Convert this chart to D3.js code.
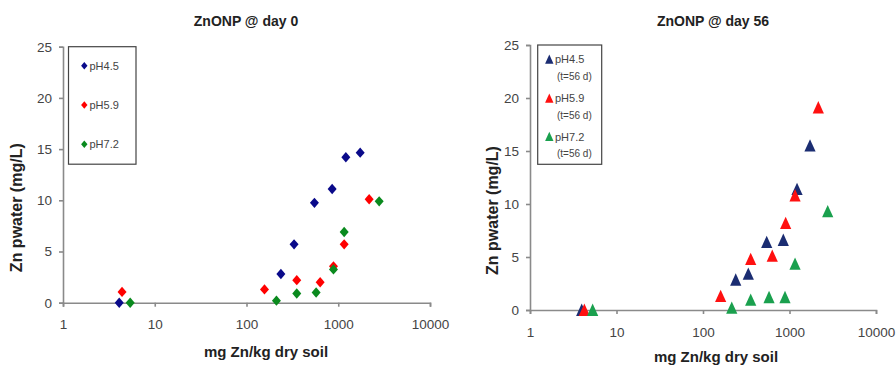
<!DOCTYPE html>
<html>
<head>
<meta charset="utf-8">
<script src="https://cdn.jsdelivr.net/npm/d3@7"></script>
<style>
  body { margin: 0; background: #fff; }
  #chart { width: 896px; height: 367px; }
  text { font-family: "Liberation Sans Narrow", "Arial Narrow", "Liberation Sans", Arial, sans-serif; }
  .axis path, .axis line { stroke: #8a8a8a; stroke-width: 1.6; }
  .axis text { fill: #444; font-size: 13.5px; }
  .title, .axisLabel { font-weight: bold; fill: #222; }
</style>
</head>
<body>
<div id="chart"></div>
<script>
// tick values
const xTicks = [1, 10, 100, 1000, 10000];
const yTicks = [0, 5, 10, 15, 20, 25];

// day 0 : [mg Zn/kg, Zn pwater]
const day0_ph45 = [[4.1, 0], [237, 2.8], [330, 5.7], [550, 9.75], [858, 11.1], [1210, 14.2], [1734, 14.65]];
const day0_ph59 = [[4.4, 1.05], [157, 1.3], [353, 2.2], [635, 2.0], [887, 3.55], [1160, 5.7], [2172, 10.1]];
const day0_ph72 = [[5.4, 0], [212, 0.2], [353, 0.9], [574, 1.0], [887, 3.25], [1160, 6.9], [2793, 9.9]];

// day 56
const day56_ph45 = [[3.96, 0], [239, 2.85], [334, 3.4], [545, 6.4], [848, 6.6], [1222, 11.4], [1726, 15.5]];
const day56_ph59 = [[4.25, 0], [160, 1.3], [356, 4.8], [632, 5.1], [903, 8.2], [1159, 10.8], [2153, 19.1]];
const day56_ph72 = [[5.3, 0], [215, 0.2], [356, 0.95], [580, 1.2], [887, 1.2], [1159, 4.35], [2765, 9.3]];

const labels = ["pH4.5", "pH5.9", "pH7.2"];
const subLabel = "(t=56 d)";

document.addEventListener("DOMContentLoaded", () => {
  const svg = d3.select("#chart").append("svg")
    .attr("width", 896)
    .attr("height", 367);

  // custom marker shapes (size = half width)
  const diamond = {
    draw(ctx, s) {
      ctx.moveTo(0, -s * 1.15); ctx.lineTo(s, 0); ctx.lineTo(0, s * 1.15); ctx.lineTo(-s, 0); ctx.closePath();
    }
  };
  const triangle = {
    draw(ctx, s) {
      ctx.moveTo(0, -s * 1.15); ctx.lineTo(s, s * 1.05); ctx.lineTo(-s, s * 1.05); ctx.closePath();
    }
  };

  const panels = [
    {
      title: "ZnONP @ day 0", series: [day0_ph45, day0_ph59, day0_ph72],
      colors: ["#0a0a8a", "#ff0000", "#0a8a1e"], shape: diamond, ms: 4.5,
      x: [63, 430], y: [302.7, 46.7], titleX: 246, yLabX: 16, xLabX: 266, xLabY: 357,
      legend: { x: 68.5, y: 46.7, w: 67.5, h: 117.5, mx: 84.3, tx: 89.5, rows: [65.7, 105, 144.3], sub: false }
    },
    {
      title: "ZnONP @ day 56", series: [day56_ph45, day56_ph59, day56_ph72],
      colors: ["#1b2d72", "#ff1010", "#1aa04e"], shape: triangle, ms: 5.6,
      x: [530, 876], y: [310, 45], titleX: 713, yLabX: 492, xLabX: 716, xLabY: 362,
      legend: { x: 537.7, y: 45, w: 64, h: 119.3, mx: 549.3, tx: 555, rows: [59.3, 98.3, 136.7], sub: true }
    }
  ];

  panels.forEach(p => {
    const xScale = d3.scaleLog().domain([1, 10000]).range(p.x);
    const yScale = d3.scaleLinear().domain([0, 25]).range(p.y);
    const g = svg.append("g");

    g.append("g")
      .attr("class", "axis")
      .attr("transform", `translate(0,${p.y[0]})`)
      .call(d3.axisBottom(xScale).tickValues(xTicks).tickFormat(d3.format("d")).tickSizeOuter(0).tickSize(4).tickPadding(13));

    g.append("g")
      .attr("class", "axis")
      .attr("transform", `translate(${p.x[0]},0)`)
      .call(d3.axisLeft(yScale).tickValues(yTicks).tickSizeOuter(0).tickSize(4).tickPadding(7));

    g.append("text")
      .attr("class", "title")
      .attr("x", p.titleX)
      .attr("y", 26)
      .attr("text-anchor", "middle")
      .style("font-size", "14px")
      .text(p.title);

    g.append("text")
      .attr("class", "axisLabel")
      .attr("x", p.xLabX)
      .attr("y", p.xLabY)
      .attr("text-anchor", "middle")
      .style("font-size", "15px")
      .text("mg Zn/kg dry soil");

    g.append("text")
      .attr("class", "axisLabel")
      .attr("transform", `translate(${p.yLabX},${(p.y[0] + p.y[1]) / 2 + 33}) rotate(-90)`)
      .attr("dy", "0.35em")
      .attr("text-anchor", "middle")
      .style("font-size", "16px")
      .text("Zn pwater (mg/L)");

    const sym = d3.symbol().type(p.shape).size(p.ms);

    p.series.forEach((data, i) => {
      g.selectAll(null)
        .data(data)
        .enter()
        .append("path")
        .attr("d", sym)
        .attr("transform", d => `translate(${xScale(d[0])},${yScale(d[1])})`)
        .attr("fill", p.colors[i]);
    });

    // legend
    const L = p.legend;
    g.append("rect")
      .attr("x", L.x).attr("y", L.y)
      .attr("width", L.w).attr("height", L.h)
      .attr("fill", "#fff")
      .attr("stroke", "#444")
      .attr("stroke-width", 1.2);

    const lsym = d3.symbol().type(p.shape).size(L.sub ? 4.2 : 3.2);
    labels.forEach((lab, i) => {
      g.append("path")
        .attr("d", lsym)
        .attr("transform", `translate(${L.mx},${L.rows[i]})`)
        .attr("fill", p.colors[i]);
      g.append("text")
        .attr("x", L.tx)
        .attr("y", L.rows[i])
        .attr("dy", "0.35em")
        .style("font-size", "11px")
        .attr("fill", "#444")
        .text(lab);
      if (L.sub) {
        g.append("text")
          .attr("x", L.tx + 2)
          .attr("y", L.rows[i] + 17)
          .attr("dy", "0.35em")
          .style("font-size", "10px")
          .attr("fill", "#444")
          .text(subLabel);
      }
    });
  });
});
</script>
</body>
</html>
